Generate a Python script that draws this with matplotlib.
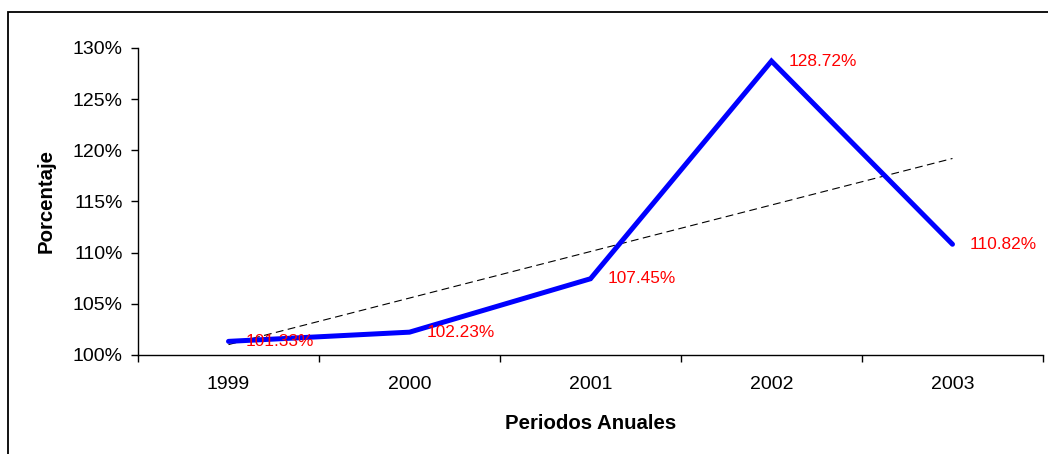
import numpy as np
import matplotlib.pyplot as plt
from matplotlib.patches import Rectangle
from matplotlib.ticker import FuncFormatter

periodos = ['1999', '2000', '2001', '2002', '2003']
porcentajes = [1.0133, 1.0223, 1.0745, 1.2872, 1.1082]
etiquetas = ['101.33%', '102.23%', '107.45%', '128.72%', '110.82%']

plt.rcParams['font.family'] = ['Liberation Sans', 'DejaVu Sans']

fig = plt.figure(figsize=(10.48, 4.54), dpi=100)
ax = fig.add_axes([0.1317, 0.2181, 0.8635, 0.6762])

x = np.arange(len(periodos))
ax.plot(x, porcentajes, color='#0000FF', lw=3.6, solid_capstyle='round', solid_joinstyle='miter', zorder=3)

# linea de tendencia lineal
m, b = np.polyfit(x, porcentajes, 1)
ax.plot(x, m * x + b, color='black', lw=0.8, ls=(0, (7, 4)), zorder=2)

for xi, yi, txt in zip(x, porcentajes, etiquetas):
    ax.annotate(txt, (xi, yi), xytext=(12, 0), textcoords='offset points',
                color='#FF0000', fontsize=12.4, va='center', ha='left', zorder=4)

ax.set_xlim(-0.5, len(periodos) - 0.5)
ax.set_ylim(1.0, 1.30)
ax.set_yticks(np.arange(1.0, 1.301, 0.05))
ax.yaxis.set_major_formatter(FuncFormatter(lambda v, p: f'{v * 100:.0f}%'))
ax.set_xticks(x)
ax.set_xticklabels(periodos)
ax.set_xticks(np.arange(-0.5, len(periodos), 1), minor=True)
ax.tick_params(axis='x', which='major', length=0, pad=15, labelsize=14)
ax.tick_params(axis='x', which='minor', length=5, width=1)
ax.tick_params(axis='y', length=5, width=1, labelsize=14, pad=6)

for s in ['top', 'right']:
    ax.spines[s].set_visible(False)
for s in ['left', 'bottom']:
    ax.spines[s].set_linewidth(1)

ax.set_xlabel('Periodos Anuales', fontsize=14.7, fontweight='bold', labelpad=15)
ax.set_ylabel('Porcentaje', fontsize=14.7, fontweight='bold', labelpad=12)

fig.patches.append(Rectangle((8 / 1048, -0.1), 1.2, 1.1 - 12 / 454, transform=fig.transFigure,
                             fill=False, ec='black', lw=1.3, clip_on=False))

fig.savefig('out.png', dpi=100)
